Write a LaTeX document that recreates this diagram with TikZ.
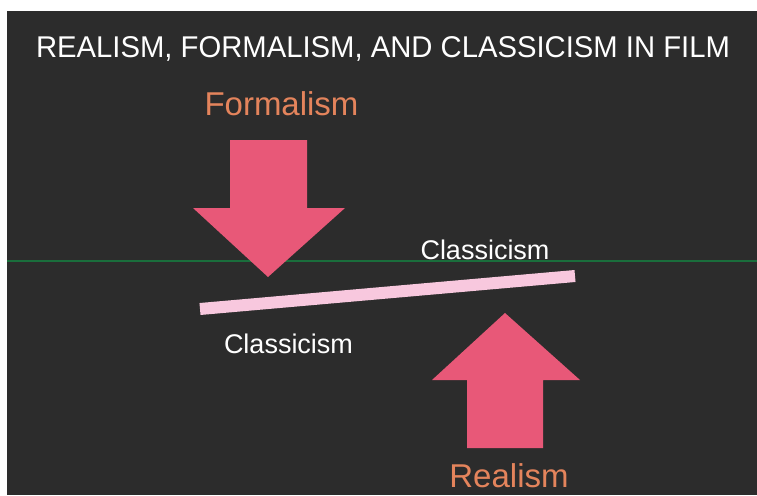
\documentclass[tikz,border=0pt]{standalone}
\usepackage{fontspec}
\setmainfont{Liberation Sans}
\definecolor{bgdark}{RGB}{44,44,44}
\definecolor{arrowpink}{RGB}{232,88,120}
\definecolor{labelorange}{RGB}{228,132,92}
\definecolor{barpink}{RGB}{248,200,222}
\definecolor{linegreen}{RGB}{26,110,60}
\tikzset{
  bigarrow/.style={fill=arrowpink, draw=none},
  orangelabel/.style={text=labelorange, font=\fontsize{33}{36}\selectfont, anchor=base, inner sep=0pt},
  whitelabel/.style={text=white, font=\fontsize{27}{30}\selectfont, anchor=base, inner sep=0pt}
}
\begin{document}
\begin{tikzpicture}[x=1pt,y=-1pt]
\useasboundingbox (0,0) rectangle (757,495);
\fill[white] (0,0) rectangle (757,495);
\fill[bgdark] (7,11) rectangle (757,495);
% title
\node[text=white, font=\fontsize{30}{33}\selectfont, anchor=base, inner sep=0pt, xscale=0.975] (title) at (383,58) {REALISM, FORMALISM, AND CLASSICISM IN FILM};
% green line
\draw[linegreen, line width=1.5pt] (7,261) -- (757,261);
% formalism
\node[orangelabel] (formalism) at (281.5,115) {Formalism};
\fill[bigarrow] (230,140) -- (307,140) -- (307,208) -- (345,208) -- (268,277) -- (193,208) -- (230,208) -- cycle;
% bar
\coordinate (barL) at (200,309);
\coordinate (barR) at (575,276);
\draw[barpink, line width=12pt] (barL) -- (barR);
% classicism labels
\node[whitelabel] (clup) at (485,259) {Classicism};
\node[whitelabel] (cllow) at (288.5,353) {Classicism};
% up arrow
\fill[bigarrow] (505,313) -- (580,380) -- (543,380) -- (543,448) -- (467,448) -- (467,380) -- (432,380) -- cycle;
\node[orangelabel] (realism) at (509,487) {Realism};
\end{tikzpicture}
\end{document}
